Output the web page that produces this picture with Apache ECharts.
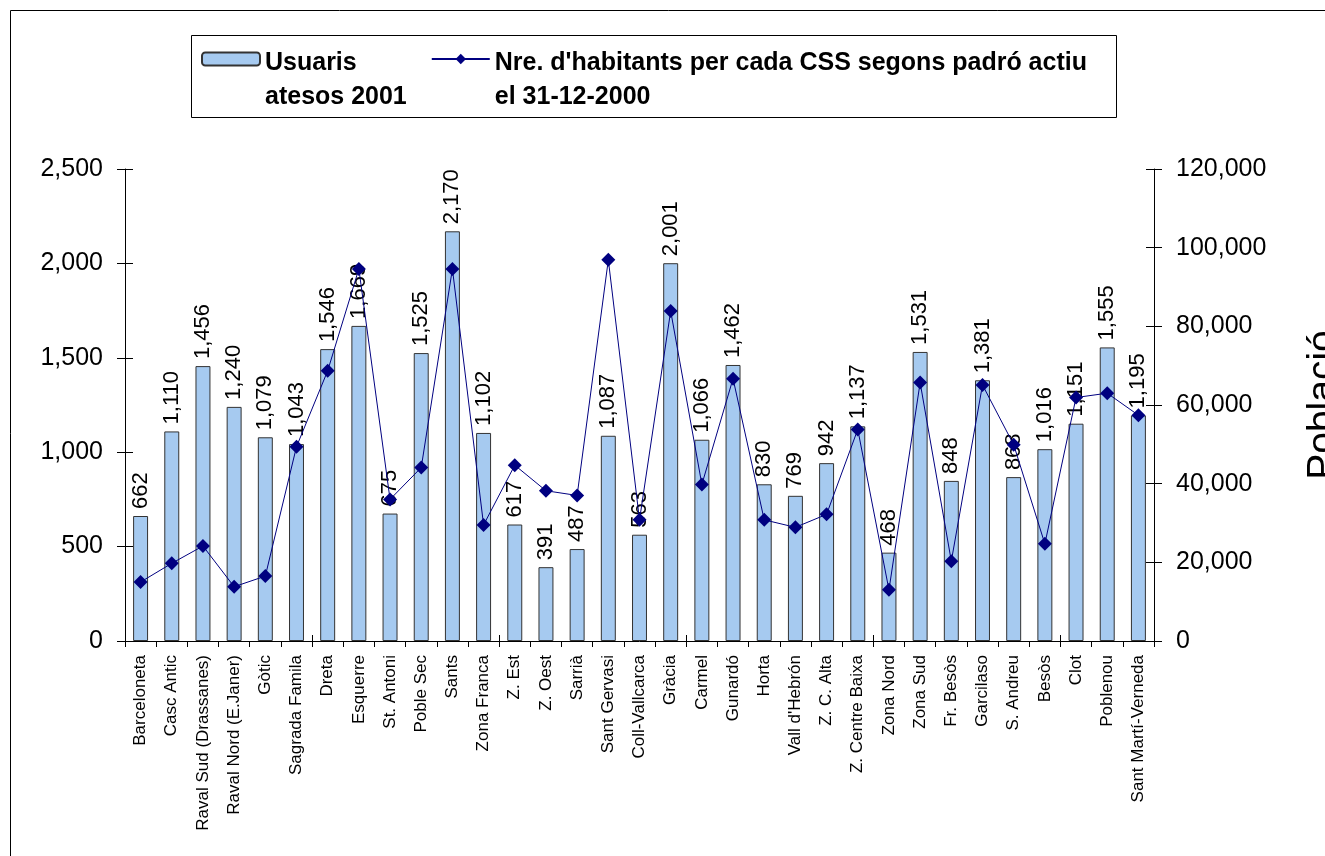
<!DOCTYPE html>
<html><head><meta charset="utf-8">
<script src="https://cdn.jsdelivr.net/npm/echarts@6/dist/echarts.min.js"></script>
<style>html,body{margin:0;padding:0;background:#fff}#c{width:1325px;height:856px}</style>
</head><body><div id="c"></div>
<script>
const categories = ["Barceloneta","Casc Antic","Raval Sud (Drassanes)","Raval Nord (E.Janer)","Gòtic","Sagrada Famila","Dreta","Esquerre","St. Antoni","Poble Sec","Sants","Zona Franca","Z. Est","Z. Oest","Sarrià","Sant Gervasi","Coll-Vallcarca","Gràcia","Carmel","Gunardó","Horta","Vall d'Hebrón","Z. C. Alta","Z. Centre Baixa","Zona Nord","Zona Sud","Fr. Besòs","Garcilaso","S. Andreu","Besòs","Clot","Poblenou","Sant Martí-Verneda"];
const usuaris = [662,1110,1456,1240,1079,1043,1546,1669,675,1525,2170,1102,617,391,487,1087,563,2001,1066,1462,830,769,942,1137,468,1531,848,1381,868,1016,1151,1555,1195];
const habitants = [15000,19750,24150,13800,16500,49400,68700,94600,36000,44100,94600,29500,44700,38200,37000,96900,30800,83900,39800,66700,30800,28900,32200,53800,13000,65700,20300,65100,49900,24700,61900,63000,57400];
const leftTicks = [0,500,1000,1500,2000,2500];
const rightTicks = [0,20000,40000,60000,80000,100000,120000];
const barName = "Usuaris\natesos 2001";
const lineName = "Nre. d'habitants per cada CSS segons padró actiu\nel 31-12-2000";
const rightAxisName = "Població";

const FONT = "'Liberation Sans', Arial, sans-serif";
const fmt = v => Number(v).toLocaleString('en-US');
const gridBox = {left:125, right:171, top:169, bottom:215, outerBoundsMode:'none', containLabel:false};

const chart = echarts.init(document.getElementById('c'));
chart.setOption({
  animation:false,
  textStyle:{fontFamily:FONT},
  grid:[Object.assign({}, gridBox), Object.assign({}, gridBox)],
  graphic:[
    {type:'rect', shape:{x:10.5,y:10.5,width:1400,height:900}, style:{fill:'none',stroke:'#000',lineWidth:1}},
    {type:'rect', shape:{x:191.5,y:35.5,width:925,height:82}, style:{fill:'#fff',stroke:'#000',lineWidth:1}}
  ],
  legend:{
    left:201, top:20, padding:0, itemGap:24, itemWidth:58, itemHeight:13,
    formatter: name => '{s| }\n' + name.split('\n').map(l => '{a|' + l + '}').join('\n'),
    textStyle:{color:'#000', fontFamily:FONT,
      rich:{
        s:{fontSize:10, lineHeight:42},
        a:{fontSize:25, fontWeight:'bold', lineHeight:34, color:'#000', fontFamily:FONT}
      }},
    data:[{name:barName},{name:lineName}]
  },
  xAxis:[
    {type:'category', gridIndex:0, data:categories,
     axisLine:{show:true, lineStyle:{color:'#000',width:1}},
     axisTick:{show:true, length:6, lineStyle:{color:'#000'}},
     axisLabel:{rotate:90, fontSize:17, color:'#000', margin:14, interval:0, fontFamily:FONT}},
    {type:'category', gridIndex:1, data:categories,
     axisLine:{show:false}, axisTick:{show:true, inside:true, length:6, lineStyle:{color:'#000'}},
     axisLabel:{show:false}}
  ],
  yAxis:[
    {type:'value', gridIndex:0, position:'left', min:leftTicks[0], max:leftTicks[leftTicks.length-1], interval:leftTicks[1]-leftTicks[0],
     axisLine:{show:true, lineStyle:{color:'#000'}}, axisTick:{show:true, length:8, lineStyle:{color:'#000'}},
     splitLine:{show:false}, axisLabel:{fontSize:25, color:'#000', margin:22, formatter:fmt, fontFamily:FONT}},
    {type:'value', gridIndex:0, position:'right', min:rightTicks[0], max:rightTicks[rightTicks.length-1], interval:rightTicks[1]-rightTicks[0],
     name:rightAxisName, nameLocation:'middle', nameRotate:90, nameGap:150,
     nameTextStyle:{fontSize:39, color:'#000', fontFamily:FONT},
     axisLine:{show:true, lineStyle:{color:'#000'}}, axisTick:{show:true, length:8, lineStyle:{color:'#000'}},
     splitLine:{show:false}, axisLabel:{fontSize:25, color:'#000', margin:22, formatter:fmt, fontFamily:FONT}},
    {type:'value', gridIndex:1, position:'left', min:leftTicks[0], max:leftTicks[leftTicks.length-1], interval:leftTicks[1]-leftTicks[0],
     axisLine:{show:false}, axisTick:{show:true, inside:true, length:8, lineStyle:{color:'#000'}},
     splitLine:{show:false}, axisLabel:{show:false}},
    {type:'value', gridIndex:1, position:'right', min:rightTicks[0], max:rightTicks[rightTicks.length-1], interval:rightTicks[1]-rightTicks[0],
     axisLine:{show:false}, axisTick:{show:true, inside:true, length:8, lineStyle:{color:'#000'}},
     splitLine:{show:false}, axisLabel:{show:false}}
  ],
  series:[
    {type:'bar', name:barName, xAxisIndex:0, yAxisIndex:0, data:usuaris, barWidth:'48%',
     itemStyle:{color:'#A6CAF0', borderColor:'#333', borderWidth:1},
     label:{show:true, position:'top', rotate:90, align:'left', verticalAlign:'middle', distance:7,
            fontSize:22, color:'#000', fontFamily:FONT, formatter:p=>fmt(p.value)}},
    {type:'line', name:lineName, xAxisIndex:0, yAxisIndex:1, data:habitants, z:5,
     symbol:'diamond', symbolSize:14, color:'#000080',
     lineStyle:{color:'#000080', width:1}, itemStyle:{color:'#000080'}}
  ]
});
</script></body></html>
